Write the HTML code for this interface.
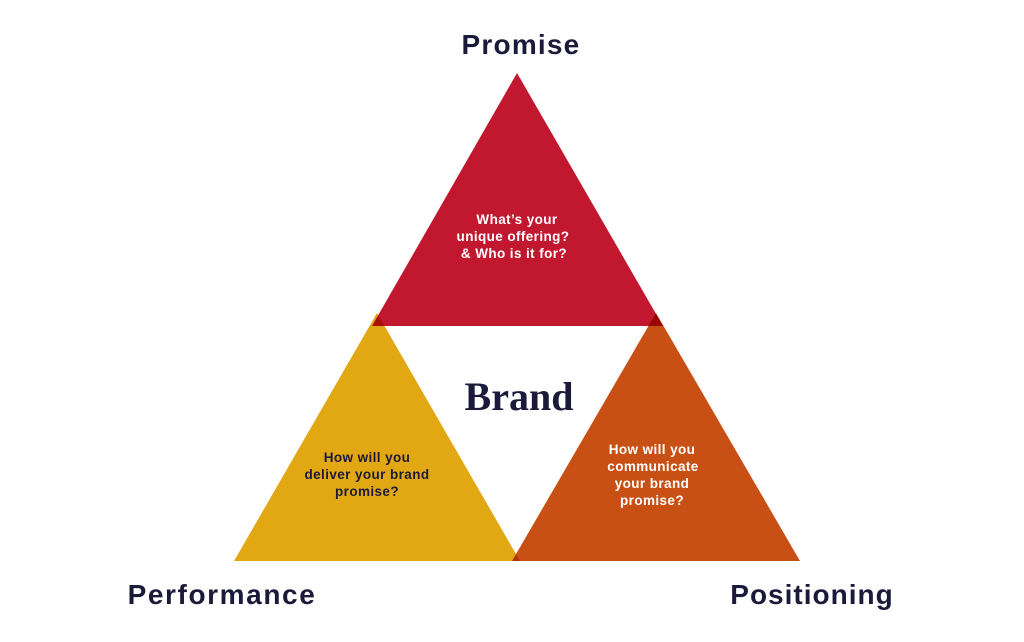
<!DOCTYPE html>
<html><head><meta charset="utf-8"><style>
html,body{margin:0;padding:0;background:#fff;}
svg{display:block;}
.t{font-family:"Liberation Sans",sans-serif;font-weight:bold;}
</style></head><body>
<svg width="1024" height="642" viewBox="0 0 1024 642" xmlns="http://www.w3.org/2000/svg">
<rect width="1024" height="642" fill="#fff"/>
<g style="isolation:isolate">
<polygon points="377,313 234,561 520,561" fill="#e2a814" style="mix-blend-mode:multiply"/>
<polygon points="656,313 512,561 800,561" fill="#c85014" style="mix-blend-mode:multiply"/>
<polygon points="517,73 372,326 663,326" fill="#c1182f" style="mix-blend-mode:multiply"/>
</g>
<text class="t" x="521" y="54" font-size="28" letter-spacing="1.2" fill="#1c1a3a" text-anchor="middle">Promise</text>
<text class="t" x="222" y="604" font-size="28" letter-spacing="1.6" fill="#1c1a3a" text-anchor="middle">Performance</text>
<text class="t" x="812" y="604" font-size="28" letter-spacing="1" fill="#1c1a3a" text-anchor="middle">Positioning</text>
<text x="519" y="410" font-family="Liberation Serif,serif" font-weight="bold" font-size="40" fill="#1c1a3a" text-anchor="middle">Brand</text>
<g class="t" font-size="13.5" letter-spacing="0.4" fill="#fff" text-anchor="middle">
<text x="517" y="224">What’s your</text>
<text x="513" y="241">unique offering?</text>
<text x="514" y="258">&amp; Who is it for?</text>
</g>
<g class="t" font-size="13.5" letter-spacing="0.4" fill="#1c1a3a" text-anchor="middle">
<text x="367" y="462">How will you</text>
<text x="367" y="479">deliver your brand</text>
<text x="367" y="496">promise?</text>
</g>
<g class="t" font-size="13.5" letter-spacing="0.4" fill="#fff" text-anchor="middle">
<text x="652" y="454">How will you</text>
<text x="653" y="471">communicate</text>
<text x="652" y="488">your brand</text>
<text x="652" y="505">promise?</text>
</g>
</svg>
</body></html>
